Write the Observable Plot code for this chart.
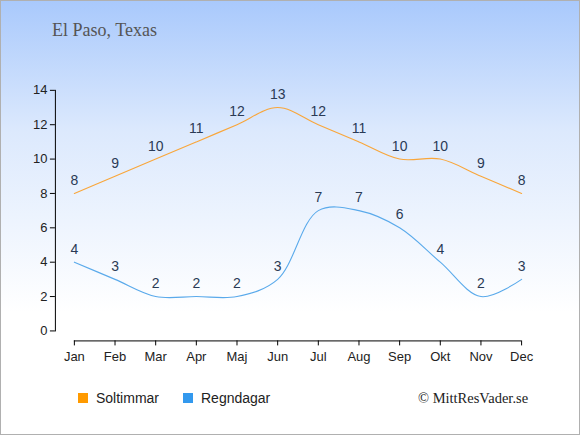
<!DOCTYPE html>
<html><head><meta charset="utf-8">
<script src="https://cdn.jsdelivr.net/npm/d3@7"></script>
<script src="https://cdn.jsdelivr.net/npm/@observablehq/plot@0.6"></script>
<style>
body{margin:0;}
#wrap{position:relative;width:580px;height:435px;box-sizing:border-box;border:1px solid #b0b0b0;
background:linear-gradient(to bottom,#a9c9fc 0%,#dce9fd 30%,#ffffff 72%,#ffffff 100%);overflow:hidden;}
#title{position:absolute;left:51px;top:19px;font-family:"Liberation Serif",serif;font-size:18px;color:#555;}
#chart{position:absolute;left:-1px;top:-1px;}
.leg{position:absolute;top:389px;font-family:"Liberation Sans",Arial,sans-serif;font-size:14px;color:#222;display:flex;align-items:center;}
.sw{width:10px;height:10px;display:inline-block;margin-right:8px;}
#copy{position:absolute;left:417px;top:389px;font-family:"Liberation Serif",serif;font-size:14.5px;color:#222;}
</style></head>
<body>
<div id="wrap">
<div id="title">El Paso, Texas</div>
<div id="chart"></div>
<div class="leg" style="left:77px"><span class="sw" style="background:#ff9a00"></span>Soltimmar</div>
<div class="leg" style="left:182px"><span class="sw" style="background:#3399ee"></span>Regndagar</div>
<div id="copy">© MittResVader.se</div>
</div>
<script>
const months = ["Jan","Feb","Mar","Apr","Maj","Jun","Jul","Aug","Sep","Okt","Nov","Dec"];
const soltimmar = [8,9,10,11,12,13,12,11,10,10,9,8];
const regndagar = [4,3,2,2,2,3,7,7,6,4,2,3];
const yTicks = [0,2,4,6,8,10,12,14];

const sol = months.map((m,i)=>({m, v: soltimmar[i]}));
const rain = months.map((m,i)=>({m, v: regndagar[i]}));

const chart = Plot.plot({
  width: 580, height: 380,
  marginLeft: 55, marginTop: 90, marginBottom: 49, marginRight: 20,
  style: {background: "transparent", fontFamily: "Liberation Sans, Arial, sans-serif", fontSize: "13px", color: "#222"},
  x: {type: "point", domain: months, range: [74, 522], padding: 0, round: false},
  y: {domain: [0, 14], range: [331, 90]},
  marks: [
    Plot.frame({anchor: "left", stroke: "#000"}),
    Plot.axisY({ticks: yTicks, tickSize: 5, tickPadding: 3, label: null, fontSize: 13, stroke: "#000"}),
    Plot.ruleY([0], {x1: () => months[0], x2: () => months[11], dy: 10, stroke: "#000"}),
    Plot.axisX({tickSize: 5, tickPadding: 6, dy: 10, label: null, fontSize: 13, stroke: "#000"}),
    Plot.line(sol, {x: "m", y: "v", curve: "catmull-rom", stroke: "#f9a63a", strokeWidth: 1.1}),
    Plot.line(rain, {x: "m", y: "v", curve: "catmull-rom", stroke: "#5aaaeb", strokeWidth: 1.1}),
    Plot.text(sol, {x: "m", y: "v", text: d => String(d.v), dy: -13, fill: "#2a3a55", fontSize: 14}),
    Plot.text(rain, {x: "m", y: "v", text: d => String(d.v), dy: -13, fill: "#2a3a55", fontSize: 14})
  ]
});
document.getElementById("chart").appendChild(chart);
</script>
</body></html>
